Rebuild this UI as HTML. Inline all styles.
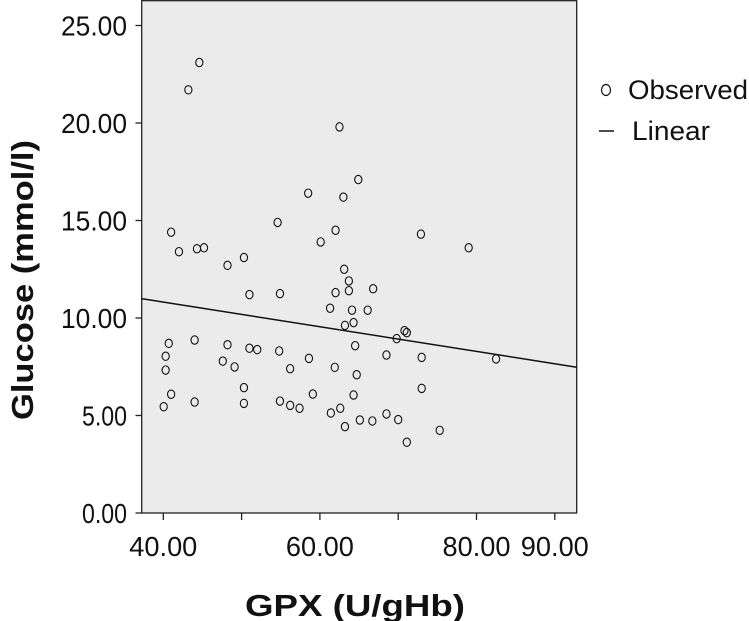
<!DOCTYPE html>
<html><head><meta charset="utf-8"><style>
body{margin:0;background:#fff;}
svg{display:block;font-family:"Liberation Sans",Arial,sans-serif;}
</style></head><body>
<svg id="chart" width="749" height="621">
<rect x="141.7" y="0.7" width="435" height="512.3" fill="#ebebeb" stroke="#222" stroke-width="1.3"/>
<g id="yaxis"></g>
<g id="xaxis"></g>
<g id="marks"></g>
<text x="355" y="616" text-anchor="middle" font-size="31" font-weight="bold" fill="#111" textLength="220" lengthAdjust="spacingAndGlyphs">GPX (U/gHb)</text>
<text transform="translate(33,280) rotate(-90)" text-anchor="middle" font-size="31" font-weight="bold" fill="#111" textLength="280" lengthAdjust="spacingAndGlyphs">Glucose (mmol/l)</text>
<g>
<ellipse cx="606" cy="90" rx="4.5" ry="5.5" fill="none" stroke="#111" stroke-width="1.2"/>
<text x="628" y="99" font-size="27" fill="#111" textLength="120" lengthAdjust="spacingAndGlyphs">Observed</text>
<line x1="599" y1="131" x2="614" y2="131" stroke="#111" stroke-width="1.5"/>
<text x="632" y="140" font-size="27" fill="#111" textLength="78" lengthAdjust="spacingAndGlyphs">Linear</text>
</g>
</svg>
<script>
const xs=[44.6,43.2,62.5,64.9,58.5,63.0,54.6,41.0,62.0,72.9,60.1,42.0,44.3,45.2,79.0,50.3,48.2,63.1,63.7,63.7,62.0,66.8,51.0,54.9,61.3,64.1,66.1,64.3,63.2,70.8,71.1,69.8,40.7,44.0,48.2,51.0,52.0,54.8,64.5,58.6,68.5,73.0,82.5,40.3,40.3,47.6,49.1,56.2,61.9,64.7,50.3,73.0,41.0,59.1,64.3,40.05,44.0,50.3,54.9,56.2,57.4,61.4,62.6,68.5,70.0,65.1,66.7,63.2,75.3,71.1];
const ys=[23.1,21.7,19.8,17.1,16.4,16.2,14.9,14.4,14.5,14.3,13.9,13.4,13.55,13.6,13.6,13.1,12.7,12.5,11.9,11.4,11.3,11.5,11.2,11.25,10.5,10.4,10.4,9.76,9.62,9.35,9.25,8.94,8.70,8.87,8.63,8.45,8.38,8.31,8.58,7.93,8.10,7.98,7.90,8.04,7.33,7.79,7.49,7.40,7.47,7.09,6.43,6.39,6.09,6.10,6.05,5.45,5.69,5.62,5.74,5.52,5.37,5.13,5.37,5.08,4.79,4.77,4.72,4.43,4.24,3.63];
const xTicks=[40,50,60,70,80,90];
const xTickLabels=["40.00","","60.00","","80.00","90.00"];
const yTicks=[0,5,10,15,20,25];
const yTickLabels=["0.00","5.00","10.00","15.00","20.00","25.00"];
const fitIntercept=13.35, fitSlope=-0.0633;
const xDomain=[37.2,92.8];
const NS="http://www.w3.org/2000/svg";
function X(v){return 163.3+(v-40)*7.83;}
function Y(v){return 513-v*19.5;}
function mk(tag,attrs,parent){const e=document.createElementNS(NS,tag);for(const k in attrs)e.setAttribute(k,attrs[k]);parent.appendChild(e);return e;}
const ya=document.getElementById('yaxis'),xa=document.getElementById('xaxis'),mg=document.getElementById('marks');
function tl(s){return s.length>=5?66:45;}
yTicks.forEach((t,i)=>{
 const l=mk('line',{x1:135.5,x2:141.7,y1:Y(t),y2:Y(t),stroke:'#222','stroke-width':1.3},ya);
 
 
 const tx=mk('text',{x:127,y:Y(t)+10,'text-anchor':'end','font-size':28,fill:'#111',textLength:tl(yTickLabels[i]),lengthAdjust:'spacingAndGlyphs'},ya);
 tx.textContent=yTickLabels[i];
 
 
});
xTicks.forEach((t,i)=>{
 const l=mk('line',{x1:X(t),x2:X(t),y1:513,y2:520,stroke:'#222','stroke-width':1.3},xa);
 
 
 if(xTickLabels[i]){
 const tx=mk('text',{x:X(t),y:556,'text-anchor':'middle','font-size':28,fill:'#111',textLength:68,lengthAdjust:'spacingAndGlyphs'},xa);
 tx.textContent=xTickLabels[i];
 
 
 }
});
const fl=mk('line',{x1:X(xDomain[0]),y1:Y(fitIntercept+fitSlope*xDomain[0]),x2:X(xDomain[1]),y2:Y(fitIntercept+fitSlope*xDomain[1]),stroke:'#111','stroke-width':1.5},mg);


xs.forEach((v,i)=>{
 const c=mk('ellipse',{cx:X(v),cy:Y(ys[i]),rx:3.6,ry:4.2,fill:'none',stroke:'#111','stroke-width':1.1},mg);
 
 
});
</script>
</body></html>
